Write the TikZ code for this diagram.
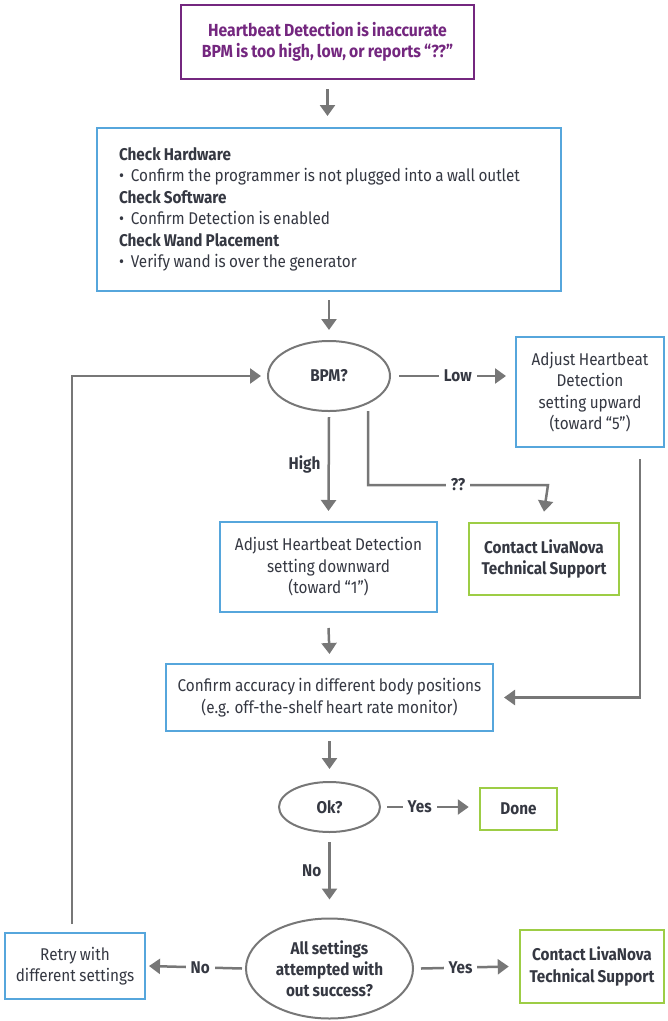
\documentclass[tikz,border=0pt]{standalone}
\usepackage{fontspec}
\setmainfont{Fira Sans}[FakeStretch=0.9, WordSpace=0.85]
\usetikzlibrary{shapes.geometric, arrows.meta, positioning}

\definecolor{ccpurple}{HTML}{74277F}
\definecolor{ccblue}{HTML}{56A6DC}
\definecolor{ccgreen}{HTML}{9DCD45}
\definecolor{ccgray}{HTML}{777777}
\definecolor{cctext}{HTML}{353842}

\begin{document}
\begin{tikzpicture}[
    x=1pt, y=-1pt,
    % Styles
    every node/.style={font=\fontsize{17}{21.5}\selectfont, text=cctext},
    start node/.style={rectangle, draw=ccpurple, line width=2.5pt, text=ccpurple, font=\fontsize{17.5}{21.5}\selectfont\bfseries, align=center, inner sep=0pt, minimum width=293, minimum height=74},
    step node/.style={rectangle, draw=ccblue, line width=2pt, fill=white, align=center, inner sep=0pt},
    end node/.style={rectangle, draw=ccgreen, line width=2.5pt, fill=white, align=center, inner sep=0pt, font=\fontsize{17}{21.5}\selectfont\bfseries},
    ask node/.style={ellipse, draw=ccgray, line width=2pt, align=center, inner sep=0pt, font=\fontsize{17}{21}\selectfont\bfseries},
    arrow/.style={-{Triangle[width=15pt,length=11pt]}, draw=ccgray, line width=2.5pt},
    edge label/.style={fill=white, inner sep=5pt, font=\fontsize{17}{21}\selectfont\bfseries}
]
\useasboundingbox (0,0) rectangle (668,1021);

% Top of the chart
\node[start node] (issue) at (327.5,42) {Heartbeat Detection is inaccurate\\BPM is too high, low, or reports “??”};

\node[step node, anchor=north west, align=flush left, text width=420pt, inner xsep=22pt, minimum height=163] (checks) at (96,127)
  {\textbf{Check Hardware}\\
   \textbullet\ \ Confirm the programmer is not plugged into a wall outlet\\
   \textbf{Check Software}\\
   \textbullet\ \ Confirm Detection is enabled\\
   \textbf{Check Wand Placement}\\
   \textbullet\ \ Verify wand is over the generator};

% First decision
\node[ask node, minimum width=122, minimum height=70] (bpm) at (329,376) {BPM?};
\node[step node, minimum width=148, minimum height=110] (upward) at (590,392) {Adjust Heartbeat\\Detection\\setting upward\\(toward “5”)};
\node[step node, minimum width=217, minimum height=90] (downward) at (328.5,567) {Adjust Heartbeat Detection\\setting downward\\(toward “1”)};
\node[end node, minimum width=150, minimum height=72] (support1) at (544,559) {Contact LivaNova\\Technical Support};

% Verification
\node[step node, minimum width=327, minimum height=67] (confirm) at (329.5,697.5) {Confirm accuracy in different body positions\\(e.g. off-the-shelf heart rate monitor)};
\node[ask node, minimum width=101, minimum height=50] (ok) at (329.5,807) {Ok?};
\node[end node, minimum width=77, minimum height=42] (done) at (518.5,809) {Done};

% Last decision
\node[ask node, minimum width=167, minimum height=100] (tried) at (329.5,968.5) {All settings\\attempted with\\out success?};
\node[step node, minimum width=140, minimum height=66] (retry) at (75,966) {Retry with\\different settings};
\node[end node, minimum width=144, minimum height=73] (support2) at (592,966.5) {Contact LivaNova\\Technical Support};

% Connections
\draw[arrow] ([yshift=-9]issue.south) -- ([yshift=11]checks.north -| issue.south);
\draw[arrow] ([yshift=-8]checks.south -| bpm.north) -- ([yshift=10]bpm.north);
\draw[arrow] ([xshift=8]bpm.east) -- node[edge label, pos=0.55] {Low} ([xshift=-9]upward.west |- bpm.east);
\draw[arrow] ([yshift=-5]bpm.south) -- node[edge label, left=2pt, fill=none] {High} ([yshift=10]downward.north);
\draw[arrow] ([shift={(39,-1)}]bpm.south) |- node[edge label, pos=0.75] {??} ++(180,74) -- ([yshift=10]support1.north);
\draw[arrow] ([xshift=50,yshift=-11]upward.south) |- ([xshift=10]confirm.east);
\draw[arrow] ([yshift=-15]downward.south) -- ([yshift=9]confirm.north);
\draw[arrow] ([yshift=-9]confirm.south) -- ([yshift=12]ok.north);
\draw[arrow] ([xshift=6]ok.east) -- node[edge label, pos=0.4] {Yes} ([xshift=-10]done.west |- ok.east);
\draw[arrow] ([yshift=-9]ok.south) -- node[edge label, left=2pt, fill=none] {No} ([yshift=18]tried.north);
\draw[arrow] ([xshift=-3]tried.west) -- node[edge label, pos=0.45] {No} ([xshift=3]retry.east);
\draw[arrow] ([xshift=7]tried.east) -- node[edge label, pos=0.45] {Yes} ([xshift=-10]support2.west);
\draw[arrow] ([xshift=-3,yshift=8]retry.north) |- ([xshift=-6]bpm.west);

\end{tikzpicture}
\end{document}
